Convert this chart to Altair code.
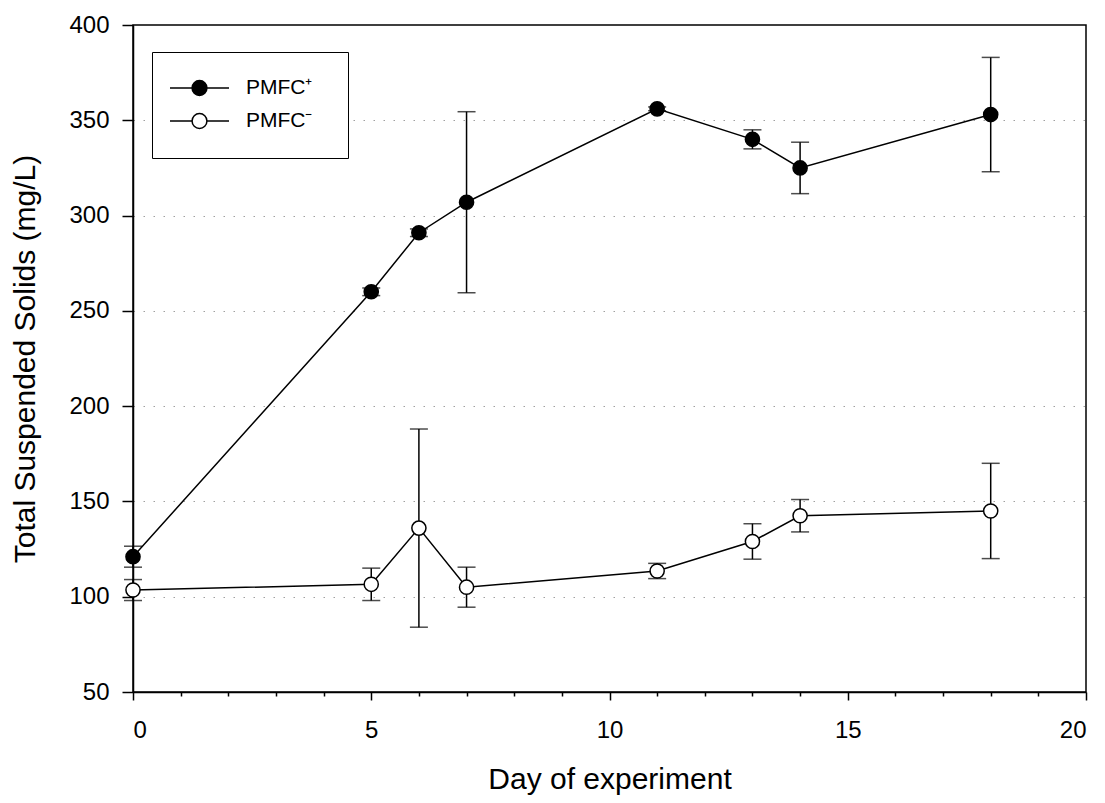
import altair as alt
import pandas as pd

# ---- data ----
days = [0, 5, 6, 7, 11, 13, 14, 18]
tss_plus = [121, 260, 291, 307, 356, 340, 325, 353]
err_plus = [5.5, 2, 2, 47.5, 1, 5, 13.5, 30]
tss_minus = [103.5, 106.5, 136, 105, 113.5, 129, 142.5, 145]
err_minus = [5.5, 8.5, 52, 10.5, 4, 9.3, 8.5, 25]
series_names = ["PMFC\u207a", "PMFC\u207b"]
x_ticks = list(range(0, 21))
y_ticks = [50, 100, 150, 200, 250, 300, 350, 400]

rows = []
for d, v, e in zip(days, tss_plus, err_plus):
    rows.append({"day": d, "tss": v, "lo": v - e, "hi": v + e, "series": series_names[0]})
for d, v, e in zip(days, tss_minus, err_minus):
    rows.append({"day": d, "tss": v, "lo": v - e, "hi": v + e, "series": series_names[1]})
df = pd.DataFrame(rows)

FONT = "Liberation Sans"

x_enc = alt.X(
    "day:Q",
    scale=alt.Scale(domain=[0, 20], nice=False),
    axis=alt.Axis(
        title="Day of experiment",
        values=x_ticks,
        labelExpr="datum.value % 5 === 0 ? datum.label : ''",
        tickSize={"condition": {"test": "datum.value % 5 === 0", "value": 8}, "value": 4},
        labelPadding=18,
        titlePadding=22,
        grid=False,
    ),
)
y_scale = alt.Scale(domain=[50, 400], nice=False)
y_axis = alt.Axis(
    title="Total Suspended Solids (mg/L)",
    values=y_ticks,
    tickSize=11,
    labelPadding=13,
    titlePadding=28,
    grid=True,
    gridDash=[1.5, 8.5],
    gridColor="#a0a0a0",
    gridWidth=1,
    gridOpacity={"condition": {"test": "datum.value === 50 || datum.value === 400", "value": 0}, "value": 1},
)

base = alt.Chart(df)

err_rule = base.mark_rule(color="black", strokeWidth=1.5).encode(
    x=x_enc,
    y=alt.Y("lo:Q", scale=y_scale, axis=y_axis),
    y2="hi:Q",
)
cap_lo = base.mark_tick(color="black", orient="horizontal", size=18, thickness=1.5).encode(
    x="day:Q", y="lo:Q"
)
cap_hi = base.mark_tick(color="black", orient="horizontal", size=18, thickness=1.5).encode(
    x="day:Q", y="hi:Q"
)
line = base.mark_line(color="black", strokeWidth=1.5).encode(
    x="day:Q", y="tss:Q", detail="series:N", order="day:Q"
)

# line-with-circle legend glyph (scaled by sqrt(symbolSize)/2)
legend_symbol = (
    "M-1.39,0L-0.35,0M0.35,0L1.39,0"
    "M0.35,0A0.35,0.35,0,1,1,-0.35,0A0.35,0.35,0,1,1,0.35,0Z"
)
points = base.mark_point(filled=False, shape="circle", size=200, stroke="black", strokeWidth=1.5, opacity=1).encode(
    x="day:Q",
    y="tss:Q",
    fill=alt.Fill(
        "series:N",
        scale=alt.Scale(domain=series_names, range=["black", "white"]),
        legend=alt.Legend(
            title=".",
            titleOrient="right",
            titleFontSize=46,
            titleBaseline="top",
            titleOpacity=0,
            titlePadding=8.5,
            orient="none",
            legendX=19,
            legendY=27,
            strokeColor="black",
            fillColor="white",
            padding=14,
            symbolOffset=11.5,
            symbolType=legend_symbol,
            symbolSize=1806,
            symbolStrokeColor="black",
            symbolStrokeWidth=1.5,
            labelFont=FONT,
            labelFontSize=21,
            labelColor="black",
            rowPadding=0,
            labelOffset=24.5,
        ),
    ),
)

chart = (
    alt.layer(err_rule, cap_lo, cap_hi, line, points)
    .properties(
        width=953,
        height=667,
        autosize=alt.AutoSizeParams(type="none"),
        padding={"left": 125, "top": 17, "right": 10, "bottom": 103},
    )
    .configure_view(stroke="black", strokeWidth=1.5)
    .configure_axis(
        domainColor="black",
        domainWidth=1.5,
        tickColor="black",
        tickWidth=1.5,
        labelFont=FONT,
        labelFontSize=24,
        labelColor="black",
        titleFont=FONT,
        titleFontSize=30,
        titleFontWeight="normal",
        titleColor="black",
    )
)

chart.save("out.html", embed_options={"renderer": "svg", "actions": False})
